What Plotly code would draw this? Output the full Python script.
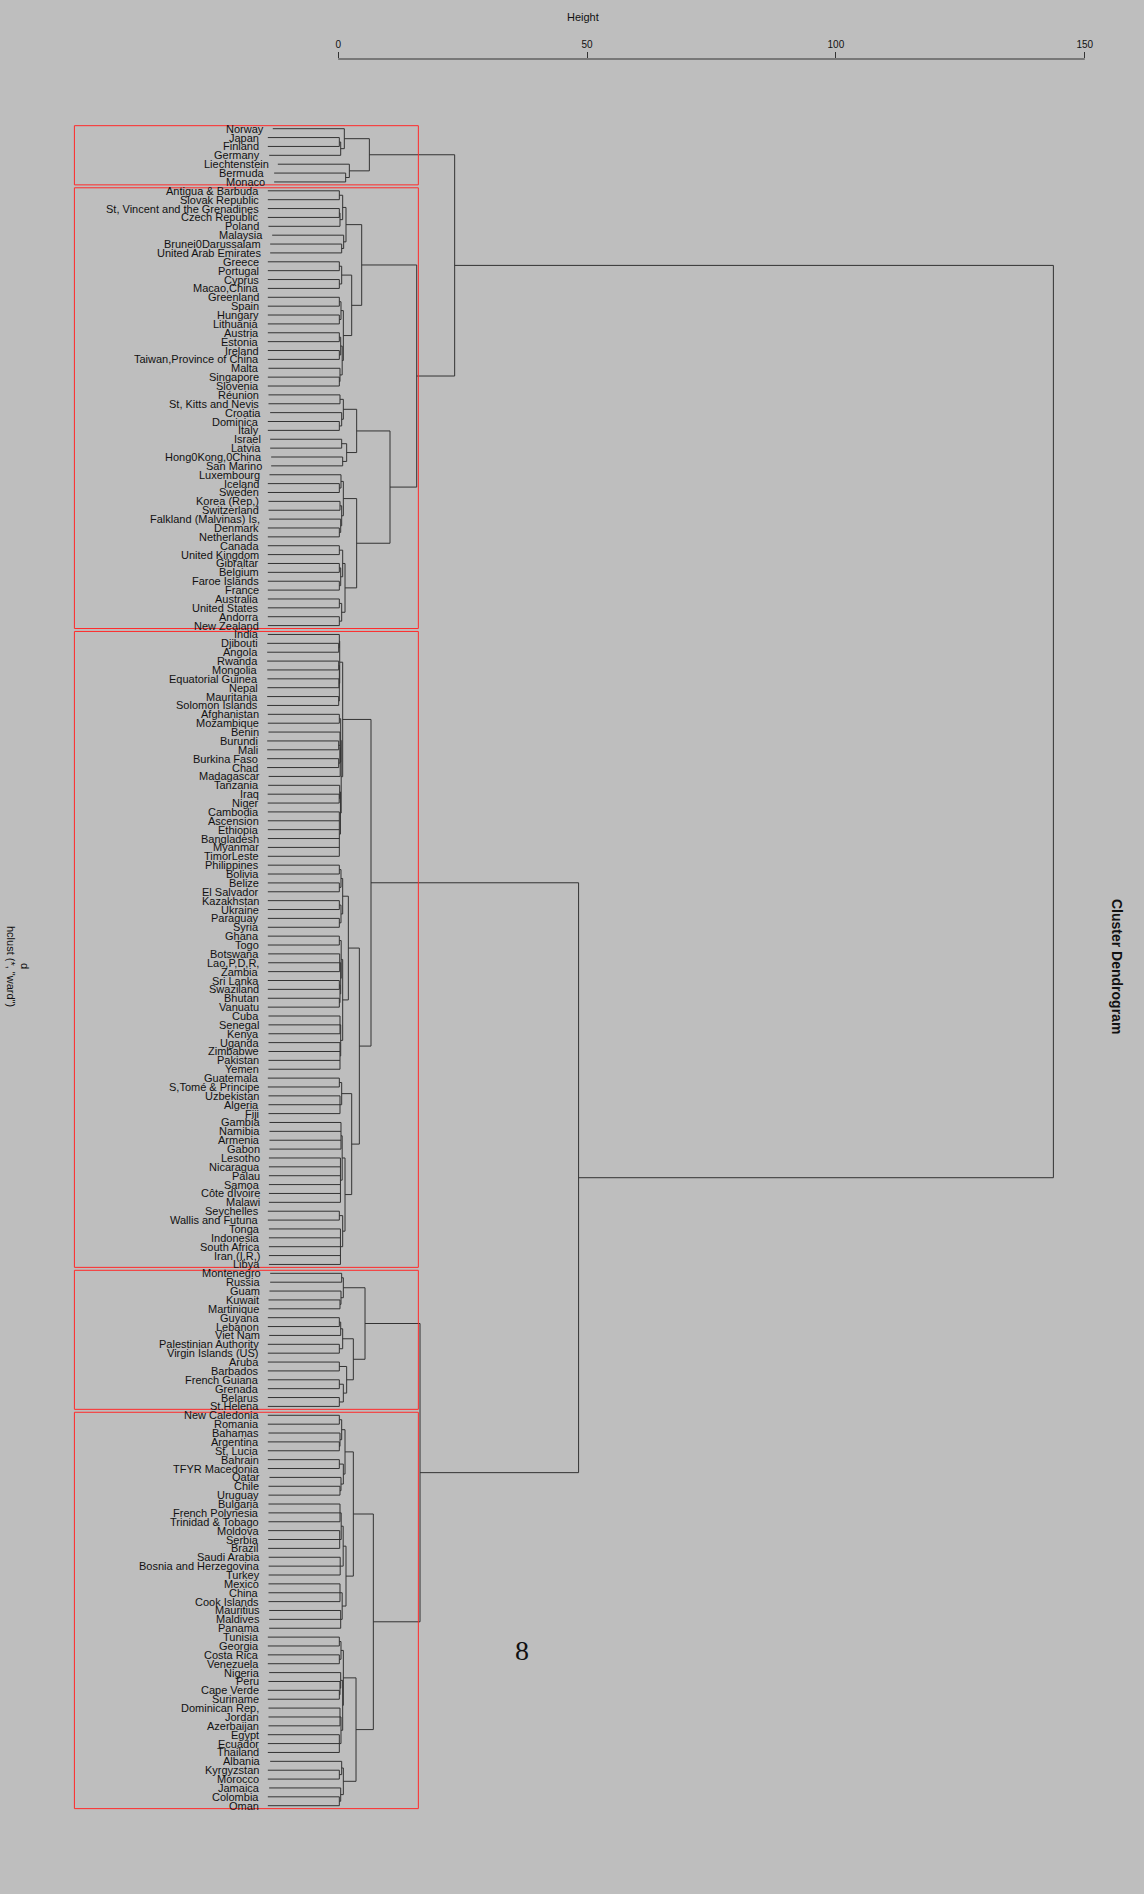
import plotly.graph_objects as go

# ---- dendrogram data: nested merges [height, child, child, ...]; leaves are country names ----
cluster_1 = [6.26,
             [1.23, "Norway", [0.50, [0.23, "Japan", "Finland"], "Germany"]],
             [2.24, "Liechtenstein", [1.50, "Bermuda", "Monaco"]]]

cluster_2 = [15.77,
             [4.72,
              [1.57,
               [0.90, [0.23, "Antigua & Barbuda", "Slovak Republic"],
                      [0.36, [0.23, "St, Vincent and the Grenadines", "Czech Republic"], "Poland"]],
               [1.10, "Malaysia", [0.70, "Brunei0Darussalam", "United Arab Emirates"]]],
              [2.71,
               [0.70, [0.23, "Greece", "Portugal"], [0.23, "Cyprus", "Macao,China"]],
               [1.03,
                [0.56, [0.23, "Greenland", "Spain"], [0.23, "Hungary", "Lithuania"]],
                [0.80, [0.50, [0.23, "Austria", "Estonia"], [0.23, "Ireland", "Taiwan,Province of China"]],
                       [0.36, "Malta", [0.23, "Singapore", "Slovenia"]]]]]],
             [10.41,
              [3.71,
               [1.03, [0.36, "Réunion", "St, Kitts and Nevis"],
                      [0.70, "Croatia", [0.23, "Dominica", "Italy"]]],
               [1.70, [0.70, "Israel", "Latvia"], [0.90, "Hong0Kong,0China", "San Marino"]]],
              [3.71,
               [1.03, [0.56, "Luxembourg", [0.23, "Iceland", "Sweden"]],
                      [0.70, [0.36, "Korea (Rep,)", "Switzerland"],
                             [0.50, "Falkland (Malvinas) Is,", [0.23, "Denmark", "Netherlands"]]]],
               [1.37, [0.90, [0.23, "Canada", "United Kingdom"],
                             [0.50, [0.23, "Gibraltar", "Belgium"], [0.23, "Faroe Islands", "France"]]],
                      [0.70, [0.23, "Australia", "United States"], [0.23, "Andorra", "New Zealand"]]]]]]

cluster_3 = [6.59,
             [0.90,
              [0.30, [0.23, "India", [0.10, "Djibouti", "Angola"]],
                     [0.23, [0.10, "Rwanda", "Mongolia"], [0.15, "Equatorial Guinea", "Nepal"],
                            [0.10, "Mauritania", "Solomon Islands"]]],
              [0.60,
               [0.50, [0.23, "Afghanistan", "Mozambique"],
                      [0.40, [0.36, "Benin", [0.10, "Burundi", "Mali"], [0.10, "Burkina Faso", "Chad"]],
                             "Madagascar"]],
               [0.45, [0.30, "Tanzania", [0.20, "Iraq", "Niger"]],
                      [0.23, "Cambodia", "Ascension", "Ethiopia", "Bangladesh", "Myanmar", "TimorLeste"]]]],
             [4.25,
              [2.04,
               [0.90, [0.56, [0.23, "Philippines", "Bolivia"], [0.23, "Belize", "El Salvador"]],
                      [0.56, [0.23, "Kazakhstan", "Ukraine"], [0.23, "Paraguay", "Syria"]]],
               [0.90,
                [0.60, [0.23, "Ghana", "Togo"],
                       [0.50, [0.30, "Botswana", "Lao,P,D,R,", "Zambia"],
                              [0.36, [0.23, "Sri Lanka", "Swaziland"], [0.23, "Bhutan", "Vanuatu"]]]],
                [0.50, [0.36, "Cuba", "Senegal", "Kenya"],
                       [0.36, "Uganda", "Zimbabwe", "Pakistan", "Yemen"]]]],
              [2.71,
               [0.70, [0.23, "Guatemala", "S,Tomé & Principe"], [0.36, "Uzbekistan", "Algeria", "Fiji"]],
               [1.37,
                [0.80, [0.56, "Gambia", "Namibia", "Armenia", "Gabon"],
                       [0.45, "Lesotho", "Nicaragua", "Palau", "Samoa", "Côte dIvoire", "Malawi"]],
                [0.90, [0.23, "Seychelles", "Wallis and Futuna"],
                       [0.45, "Tonga", "Indonesia", "South Africa", "Iran (I,R,)", "Libya"]]]]]]

cluster_4 = [5.39,
             [1.03, [0.70, "Montenegro", "Russia"], [0.56, "Guam", [0.36, "Kuwait", "Martinique"]]],
             [3.04,
              [0.90, [0.50, [0.23, "Guyana", "Lebanon"], "Viet Nam"],
                     [0.23, "Palestinian Authority", "Virgin Islands (US)"]],
              [1.70, [0.23, "Aruba", "Barbados"],
                     [1.03, [0.23, "French Guiana", "Grenada"], [0.23, "Belarus", "St.Helena"]]]]]

cluster_5 = [7.06,
             [3.04,
              [1.37,
               [0.70, [0.23, "New Caledonia", "Romania"], [0.36, "Bahamas", [0.23, "Argentina", "St, Lucia"]]],
               [1.03, [0.23, "Bahrain", "TFYR Macedonia"], [0.56, "Qatar", [0.36, "Chile", "Uruguay"]]]],
              [1.57,
               [1.00, [0.60, [0.36, "Bulgaria", "French Polynesia", "Trinidad & Tobago"],
                             [0.30, "Moldova", "Serbia", "Brazil"]],
                      [0.40, "Saudi Arabia", "Bosnia and Herzegovina", "Turkey"]],
               [0.80, [0.36, "Mexico", "China", "Cook Islands"], [0.50, "Mauritius", "Maldives", "Panama"]]]],
             [3.58,
              [1.03,
               [0.56, [0.23, "Tunisia", "Georgia"], [0.23, "Costa Rica", "Venezuela"]],
               [0.90, [0.50, "Nigeria", [0.36, "Peru", [0.23, "Cape Verde", "Suriname"]]],
                      [0.56, [0.36, "Dominican Rep,", "Jordan", "Azerbaijan"],
                             [0.23, "Egypt", "Ecuador", "Thailand"]]]],
              [1.03, [0.70, "Albania", [0.23, "Kyrgyzstan", "Morocco"]],
                     [0.50, "Jamaica", [0.23, "Colombia", "Oman"]]]]]

clusters = [cluster_1, cluster_2, cluster_3, cluster_4, cluster_5]
height_upper = 23.4      # clusters 1 + 2
height_4_5 = 16.44       # clusters 4 + 5
height_lower = 48.3      # cluster 3 + (4 + 5)
height_root = 143.7

tree = [height_root,
        [height_upper, cluster_1, cluster_2],
        [height_lower, cluster_3, [height_4_5, cluster_4, cluster_5]]]

height_ticks = [0, 50, 100, 150]
plot_floor = -53.0       # lower limit of the height scale (cluster boxes start here)
hang = 0.1 * height_root  # leaves hang below their parent merge

# ---- geometry ----
W, H = 1144, 1894


def leaves(node):
    if isinstance(node, str):
        return [node]
    out = []
    for c in node[1:]:
        out += leaves(c)
    return out


leaf_order = leaves(tree)
pos = {name: i + 1 for i, name in enumerate(leaf_order)}
tip = {}
seg_x, seg_y = [], []
all_heights = []


def place(node):
    if isinstance(node, str):
        return pos[node]
    h = node[0]
    all_heights.append(h)
    ys = []
    for c in node[1:]:
        yc = place(c)
        if isinstance(c, str):
            hc = h - hang
            tip[c] = hc
        else:
            hc = c[0]
        seg_x.extend([hc, h, None])
        seg_y.extend([yc, yc, None])
        ys.append(yc)
    seg_x.extend([h, h, None])
    seg_y.extend([ys[0], ys[-1], None])
    return (ys[0] + ys[-1]) / 2


place(tree)

fig = go.Figure()
fig.add_trace(go.Scatter(x=seg_x, y=seg_y, mode="lines",
                         line=dict(color="#333333", width=1),
                         hoverinfo="skip", showlegend=False))

# cluster boxes (k = 5)
srt = sorted(all_heights, reverse=True)
box_top = (srt[3] + srt[4]) / 2
for cl in clusters:
    names = leaves(cl)
    fig.add_shape(type="rect", xref="x", yref="y",
                  x0=plot_floor, x1=box_top,
                  y0=pos[names[0]] - 0.34, y1=pos[names[-1]] + 0.33,
                  line=dict(color="#ff2a2a", width=1), fillcolor="rgba(0,0,0,0)")

# leaf labels
annotations = []
for name in leaf_order:
    annotations.append(dict(x=tip[name], y=pos[name], xref="x", yref="y",
                            text=name, showarrow=False, xanchor="right", yanchor="middle",
                            xshift=-7, font=dict(size=11, color="#111111")))

top_px = 59
axis_y = 1 - top_px / H
# axis line spanning the tick range
fig.add_shape(type="line", xref="x", yref="paper", x0=height_ticks[0], x1=height_ticks[-1],
              y0=axis_y, y1=axis_y, line=dict(color="#333333", width=1))


def px(xp, yp):
    return xp / W, 1 - yp / H


for text, (xp, yp), ang, size, bold in [
    ("Height", (583, 17), 0, 11, False),
    ("Cluster Dendrogram", (1117, 966), 90, 14, True),
    ("d", (25, 966), 90, 11, False),
    ("hclust (*, \"ward\")", (11, 966), 90, 11, False),
]:
    x, y = px(xp, yp)
    annotations.append(dict(x=x, y=y, xref="paper", yref="paper", showarrow=False,
                            text=f"<b>{text}</b>" if bold else text, textangle=ang,
                            xanchor="center", yanchor="middle",
                            font=dict(size=size, color="#111111")))

x8, y8 = px(522, 1650)
annotations.append(dict(x=x8, y=y8, xref="paper", yref="paper", showarrow=False, text="8",
                        xanchor="center", yanchor="middle",
                        font=dict(size=28, color="#111111", family="Liberation Serif, Times New Roman, serif")))

y_top = 1 + (top_px - 128.7) / 8.873      # leaf position at the top of the plot area
y_bot = 1 + (H - 128.7) / 8.873           # leaf position at the bottom edge
x_lo = -338.2 / 4.977
x_hi = (W - 338.2) / 4.977

fig.update_layout(
    width=W, height=H,
    margin=dict(l=0, r=0, t=0, b=0),
    paper_bgcolor="#bebebe", plot_bgcolor="#bebebe",
    font=dict(family="Liberation Sans, Arial, Helvetica, sans-serif", size=11, color="#111111"),
    xaxis=dict(range=[x_lo, x_hi], side="top", tickvals=height_ticks,
               ticks="outside", ticklen=6, tickcolor="#333333", tickwidth=1,
               showgrid=False, zeroline=False, showline=False,
               tickfont=dict(size=10, color="#111111")),
    yaxis=dict(range=[y_bot, y_top], domain=[0, axis_y], visible=False),
    annotations=annotations,
    showlegend=False,
)

fig.write_html("out.html")
